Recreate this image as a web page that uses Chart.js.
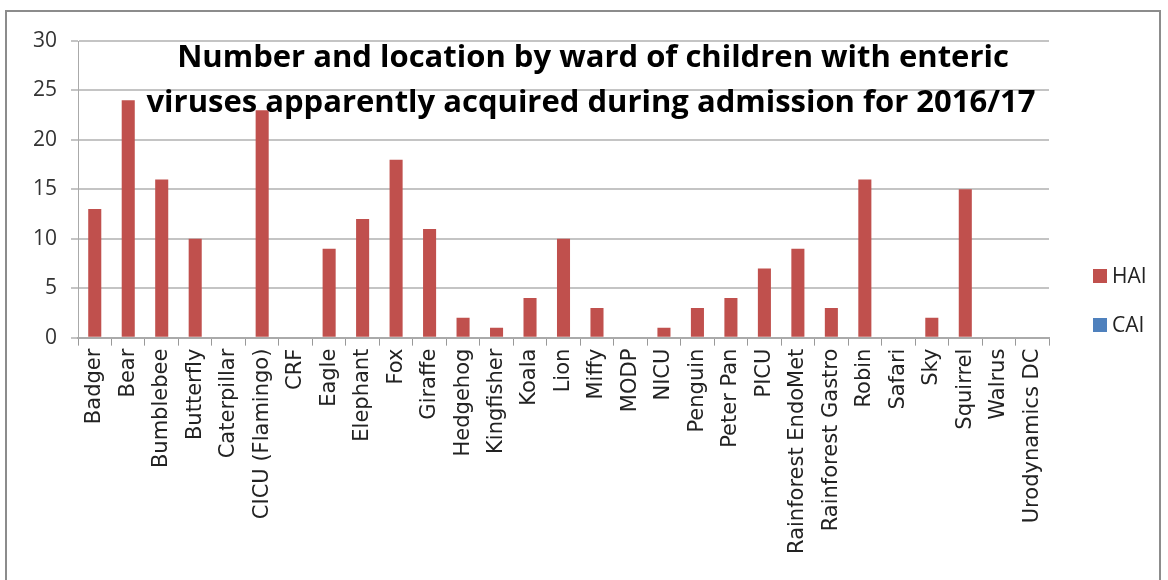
<!DOCTYPE html>
<html>
<head>
<meta charset="utf-8">
<script src="https://cdn.jsdelivr.net/npm/chart.js@4.4.1/dist/chart.umd.min.js"></script>
<style>
  html, body { margin: 0; padding: 0; background: #fff; }
  #wrap { width: 1168px; height: 580px; }
</style>
</head>
<body>
<div id="wrap"><canvas id="wardChart" width="1168" height="580"></canvas></div>
<script>
// wards on the x axis
const wards = ['Badger', 'Bear', 'Bumblebee', 'Butterfly', 'Caterpillar', 'CICU (Flamingo)', 'CRF',
  'Eagle', 'Elephant', 'Fox', 'Giraffe', 'Hedgehog', 'Kingfisher', 'Koala', 'Lion', 'Miffy',
  'MODP', 'NICU', 'Penguin', 'Peter Pan', 'PICU', 'Rainforest EndoMet', 'Rainforest Gastro',
  'Robin', 'Safari', 'Sky', 'Squirrel', 'Walrus', 'Urodynamics DC'];

// hospital acquired / community acquired counts
const haiCounts = [13, 24, 16, 10, 0, 23, 0, 9, 12, 18, 11, 2, 1, 4, 10, 3, 0, 1, 3, 4, 7, 9, 3, 16, 0, 2, 15, 0, 0];
const caiCounts = [0, 0, 0, 0, 0, 0, 0, 0, 0, 0, 0, 0, 0, 0, 0, 0, 0, 0, 0, 0, 0, 0, 0, 0, 0, 0, 0, 0, 0];

const titleLines = ['Number and location by ward of children with enteric',
  'viruses apparently acquired during admission for 2016/17'];

// frame, title over the plot and the legend on the right
const framePlugin = {
  id: 'frame',
  beforeDraw(chart) {
    const c = chart.ctx;
    c.save();
    c.fillStyle = '#fff';
    c.fillRect(0, 0, chart.width, chart.height);
    c.strokeStyle = '#8c8c8c';
    c.lineWidth = 2;
    c.strokeRect(6, 11, 1154, 620);
    c.restore();
  },
  afterDraw(chart) {
    const c = chart.ctx;
    c.save();
    c.fillStyle = '#000';
    c.font = 'bold 31px "Open Sans", sans-serif';
    c.textAlign = 'center';
    c.textBaseline = 'alphabetic';
    c.fillText(titleLines[0], 593, 67);
    c.fillText(titleLines[1], 591, 112);

    // legend, one row per dataset
    c.font = '21px "Open Sans", sans-serif';
    c.textAlign = 'left';
    c.textBaseline = 'middle';
    chart.data.datasets.forEach((ds, i) => {
      const y = 276 + i * 49;
      c.fillStyle = ds.backgroundColor;
      c.fillRect(1093, y - 7, 14, 14);
      c.fillStyle = '#222';
      c.fillText(ds.label, 1112, y + 1);
    });
    c.restore();
  }
};

new Chart(document.getElementById('wardChart'), {
  type: 'bar',
  data: {
    labels: wards,
    datasets: [
      { label: 'HAI', data: haiCounts, backgroundColor: '#C0504D', borderWidth: 0 },
      { label: 'CAI', data: caiCounts, backgroundColor: '#4F81BD', borderWidth: 0 }
    ]
  },
  options: {
    responsive: false,
    animation: false,
    layout: { padding: { left: 19, top: 41, right: 119, bottom: 23 } },
    datasets: { bar: { grouped: false, barPercentage: 0.39, categoryPercentage: 1 } },
    plugins: {
      title: { display: false },
      tooltip: { enabled: false },
      legend: { display: false }
    },
    scales: {
      x: {
        grid: { drawOnChartArea: false, tickLength: 8, color: '#999', lineWidth: 1 },
        border: { color: '#aaa', width: 2 },
        ticks: {
          minRotation: 90, maxRotation: 90, autoSkip: false,
          color: '#222',
          font: { size: 21, family: '"DejaVu Sans", sans-serif' }
        }
      },
      y: {
        min: 0, max: 30,
        grid: { color: '#c4c4c4', lineWidth: 2, tickLength: 7 },
        border: { color: '#aaa', width: 1 },
        ticks: {
          stepSize: 5,
          color: '#333',
          padding: 14,
          font: { size: 21, family: '"Open Sans", sans-serif' }
        }
      }
    }
  },
  plugins: [framePlugin]
});
</script>
</body>
</html>
